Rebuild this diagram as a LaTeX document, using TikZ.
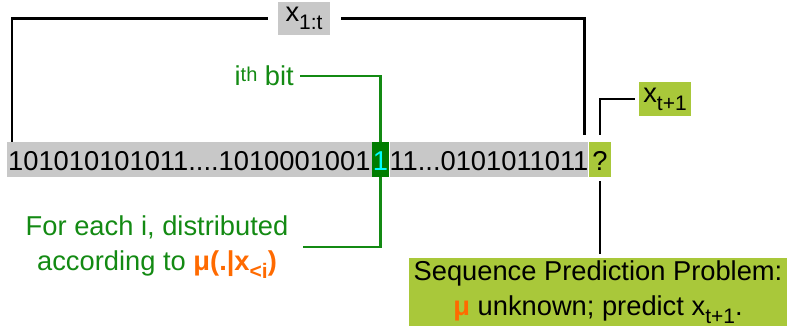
\documentclass[tikz,border=0pt]{standalone}
\usepackage{fontspec}
\setmainfont{Liberation Sans}
\usetikzlibrary{positioning}

\definecolor{bargray}{HTML}{C8C8C8}
\definecolor{bitgreen}{HTML}{007D00}
\definecolor{labelgreen}{HTML}{138A13}
\definecolor{bitcyan}{HTML}{00FFFF}
\definecolor{querygreen}{HTML}{A9C83A}
\definecolor{muorange}{HTML}{FF6A00}

% small raised and lowered text
\newcommand{\lowtext}[1]{\raisebox{-8pt}{\fontsize{21}{21}\selectfont #1}}
\newcommand{\hightext}[1]{\raisebox{4pt}{\fontsize{20}{20}\selectfont #1}}

\begin{document}
\begin{tikzpicture}[
  x=1pt, y=-1pt,
  every node/.style={font=\fontsize{27.3}{34.5}\selectfont, inner sep=0pt},
  cell/.style={minimum height=35pt, text height=23pt, text depth=2pt},
  graycell/.style={cell, fill=bargray},
  bitcell/.style={cell, fill=bitgreen, text=bitcyan},
  querycell/.style={cell, fill=querygreen},
  graybox/.style={fill=bargray},
  greenbox/.style={fill=querygreen},
  bracket/.style={draw=black, line width=2.6pt},
  bitline/.style={draw=labelgreen, line width=2.6pt}
]
\useasboundingbox (0,0) rectangle (787,327);

% the sequence
\node (seqa) [graycell, anchor=west, inner xsep=1pt] at (7,159.5) {101010101011....1010001001};
\node (bit) [bitcell, right=0pt of seqa, inner xsep=1pt] {1};
\node (seqb) [graycell, right=0pt of bit] {11...0101011011};
\node (query) [querycell, right=0pt of seqb, inner xsep=3.5pt] {?};

% labels
\node (xonet) [graybox, minimum width=52pt, minimum height=33pt] at (304,18.5) {x\lowtext{1:t}};
\node (xnext) [greenbox, minimum width=52pt, minimum height=34pt] at (665,99) {x\lowtext{t+1}};
\node (ibit) [text=labelgreen, anchor=east] at (294,76) {i\hightext{th} bit};
\node (distr) [text=labelgreen, align=center] at (157,247) {For each i, distributed\\according to \textcolor{muorange}{\textbf{μ(.|x\lowtext{\textbf{<i}})}}};
\node (problem) [greenbox, minimum width=378pt, minimum height=68pt, align=center] at (598,292) {Sequence Prediction Problem:\\\textcolor{muorange}{\textbf{μ}} unknown; predict x\lowtext{t+1}.};

% connectors
\draw[bracket] ([xshift=5pt]seqa.north west) |- ([xshift=-10pt]xonet.west);
\draw[bracket] ([xshift=11pt]xonet.east) -| ([xshift=-4pt, yshift=7pt]seqb.north east);
\draw[bracket] ([xshift=-4pt]xnext.west) -| ([yshift=7pt]query.north);
\draw[bracket] ([yshift=-4pt]query.south) -- ([yshift=4pt]query.south |- problem.north);
\draw[bitline] ([xshift=6pt]ibit.east) -| (bit.north);
\draw[bitline] ([xshift=15pt]distr.east) -| (bit.south);

\end{tikzpicture}
\end{document}
